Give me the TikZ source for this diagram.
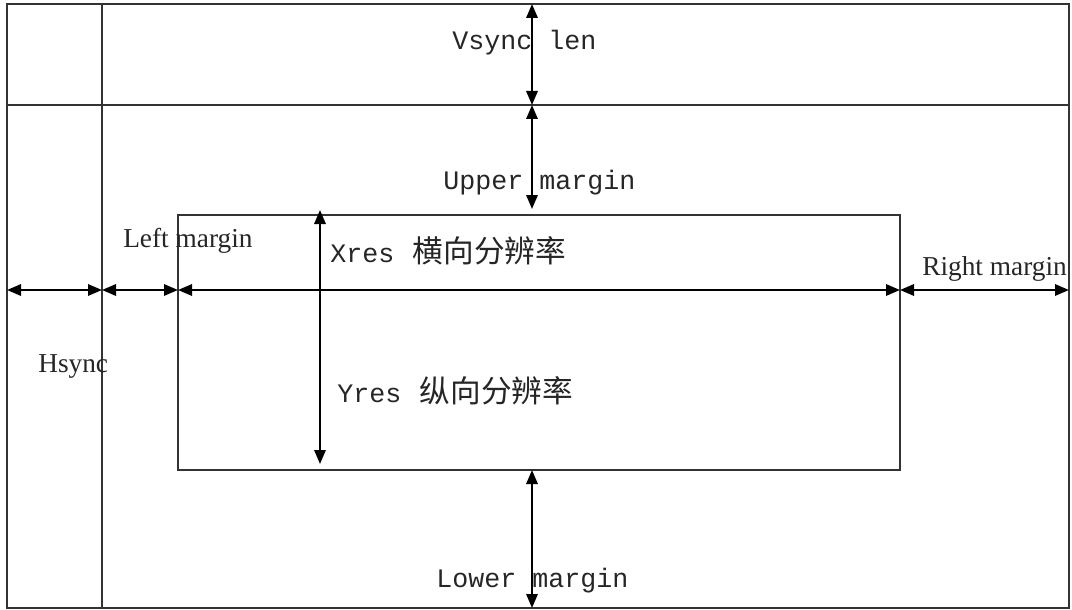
\documentclass[tikz,border=0pt]{standalone}
\usepackage{fontspec}
\setmainfont{Liberation Serif}
\newfontfamily\monof{Liberation Mono}
\newfontfamily\cjkf{Noto Sans CJK SC}
\usetikzlibrary{arrows.meta}
\begin{document}
\begin{tikzpicture}[x=0.75pt,y=-0.75pt,
  frame/.style={line width=1.6pt, draw=black!80},
  dimline/.style={line width=1.6pt, draw=black,
    {Triangle[length=10.5pt,width=8.5pt]}-{Triangle[length=10.5pt,width=8.5pt]}},
  mono/.style={font=\monof\fontsize{20}{24}\selectfont, inner sep=0pt, anchor=base west, text=black!85},
  serif/.style={font=\fontsize{20.5}{24}\selectfont, inner sep=0pt, anchor=base west, text=black!85}]
\useasboundingbox (0,0) rectangle (1072,610);
% frame corners
\coordinate (TL) at (7,4);
\coordinate (BR) at (1069,608);
\coordinate (vT) at (102,4);
\coordinate (vB) at (102,608);
\coordinate (hL) at (7,105);
\coordinate (hR) at (1069,105);
\coordinate (iTL) at (178,215);
\coordinate (iBR) at (900,470);
% dimension end points
\coordinate (a0) at (7,290);
\coordinate (a1) at (102,290);
\coordinate (a2) at (178,290);
\coordinate (a3) at (900,290);
\coordinate (a4) at (1069,290);
\coordinate (v0) at (532,4);
\coordinate (v1) at (532,105);
\coordinate (v2) at (532,209);
\coordinate (v3) at (532,470);
\coordinate (v4) at (532,608);
\coordinate (y0) at (320,210);
\coordinate (y1) at (320,464);
% frames
\draw[frame] (TL) rectangle (BR);
\draw[frame] (vT) -- (vB);
\draw[frame] (hL) -- (hR);
\draw[frame] (iTL) rectangle (iBR);
% dimension arrows
\draw[dimline] (a0) -- (a1);
\draw[dimline] (a1) -- (a2);
\draw[dimline] (a2) -- (a3);
\draw[dimline] (a3) -- (a4);
\draw[dimline] (v0) -- (v1);
\draw[dimline] (v1) -- (v2);
\draw[dimline] (v3) -- (v4);
\draw[dimline] (y0) -- (y1);
% labels
\node[mono] (vsync) at (452,50) {Vsync len};
\node[mono] (upper) at (443,190) {Upper margin};
\node[mono] (lower) at (436,587) {Lower margin};
\node[mono] (xres) at (330,262) {Xres\hspace{14pt}{\cjkf\fontsize{23}{26}\selectfont 横向分辨率}};
\node[mono] (yres) at (337,402) {Yres\hspace{14pt}{\cjkf\fontsize{23}{26}\selectfont 纵向分辨率}};
\node[serif] (left) at (123,247) {Left margin};
\node[serif] (right) at (922,275) {Right margin};
\node[serif] (hsync) at (38,372) {Hsync};
\end{tikzpicture}
\end{document}
